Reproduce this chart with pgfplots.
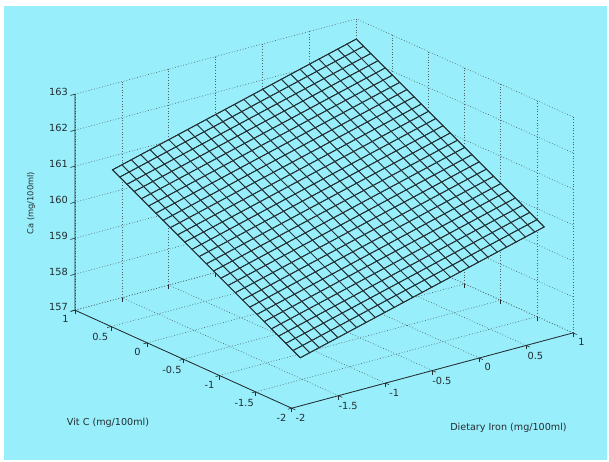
\documentclass[border=0pt]{standalone}
\usepackage{pgfplots}
\pgfplotsset{compat=1.18}
\usepackage{fontspec}
\setmainfont{DejaVu Sans}
\usetikzlibrary{calc}
\definecolor{bgc}{RGB}{152,238,250}
\definecolor{ink}{RGB}{35,45,50}
\definecolor{gridc}{RGB}{80,100,105}
\definecolor{meshc}{RGB}{35,48,52}
\begin{document}
\begin{tikzpicture}
\begin{axis}[
  set layers,
  x={(93.77pt,25.1pt)}, y={(-72.23pt,32.67pt)}, z={(0pt,36pt)},
  xmin=-2, xmax=1, ymin=-2, ymax=1, zmin=157, zmax=163,
  xtick={-2,-1.5,-1,-0.5,0,0.5,1},
  ytick={-2,-1.5,-1,-0.5,0,0.5,1},
  ztick={157,158,159,160,161,162,163},
  xtick pos=left, ytick pos=left, ztick pos=left,
  ztick style={draw=none},
  grid=major,
  major grid style={gridc, line width=0.6pt, dash pattern=on 0.8pt off 2pt},
  axis line style={draw=none},
  tick align=outside, major tick length=4pt,
  tick style={ink, line width=0.6pt},
  ticklabel style={font=\fontsize{9.8}{12}\selectfont, text=ink},
  /pgf/number format/assume math mode=true,
  xlabel={Dietary Iron (mg/100ml)},
  ylabel={Vit C (mg/100ml)},
  zlabel={Ca (mg/100ml)},
  xlabel style={at={(axis cs:-2,-2,157)}, anchor=center, xshift=216.8pt, yshift=-19.8pt, font=\fontsize{9.6}{12}\selectfont, text=ink, sloped like x axis=false},
  ylabel style={at={(axis cs:-2,-2,157)}, anchor=center, xshift=-183.7pt, yshift=-14.8pt, font=\fontsize{9.6}{12}\selectfont, text=ink, sloped like y axis=false},
  zlabel style={at={(axis cs:-2,-2,157)}, anchor=center, rotate=0, xshift=205.2pt, yshift=260.7pt, font=\fontsize{8.3}{10}\selectfont, text=ink},
  clip=false,
]
\begin{pgfonlayer}{axis background}
\fill[white] ($(axis cs:-2,-2,157)+(-291.7pt,-52.8pt)$) rectangle ($(axis cs:-2,-2,157)+(317.3pt,408.2pt)$);
\fill[bgc] ($(axis cs:-2,-2,157)+(-287.7pt,-51.8pt)$) rectangle ($(axis cs:-2,-2,157)+(315.3pt,402.2pt)$);
\end{pgfonlayer}
\addplot3[surf, shader=faceted, faceted color=meshc, line width=0.85pt,
  colormap={bgm}{rgb255=(152,238,250) rgb255=(152,238,250)}] table {
x y z
-1.6 -1.6 157.76
-1.5 -1.6 157.83
-1.4 -1.6 157.90
-1.3 -1.6 157.97
-1.2 -1.6 158.04
-1.1 -1.6 158.11
-1.0 -1.6 158.18
-0.9 -1.6 158.25
-0.8 -1.6 158.32
-0.7 -1.6 158.39
-0.6 -1.6 158.46
-0.5 -1.6 158.53
-0.4 -1.6 158.60
-0.3 -1.6 158.67
-0.2 -1.6 158.74
-0.1 -1.6 158.81
0.0 -1.6 158.88
0.1 -1.6 158.95
0.2 -1.6 159.02
0.3 -1.6 159.09
0.4 -1.6 159.16
0.5 -1.6 159.23
0.6 -1.6 159.30
0.7 -1.6 159.37
0.8 -1.6 159.44
0.9 -1.6 159.51
1.0 -1.6 159.58

-1.6 1.0 160.62
-1.5 1.0 160.69
-1.4 1.0 160.76
-1.3 1.0 160.83
-1.2 1.0 160.90
-1.1 1.0 160.97
-1.0 1.0 161.04
-0.9 1.0 161.11
-0.8 1.0 161.18
-0.7 1.0 161.25
-0.6 1.0 161.32
-0.5 1.0 161.39
-0.4 1.0 161.46
-0.3 1.0 161.53
-0.2 1.0 161.60
-0.1 1.0 161.67
0.0 1.0 161.74
0.1 1.0 161.81
0.2 1.0 161.88
0.3 1.0 161.95
0.4 1.0 162.02
0.5 1.0 162.09
0.6 1.0 162.16
0.7 1.0 162.23
0.8 1.0 162.30
0.9 1.0 162.37
1.0 1.0 162.44
};
\addplot3[mesh, line width=0.85pt,
  colormap={mm}{rgb255=(35,48,52) rgb255=(35,48,52)}] table {
x y z
-1.6 -1.6 157.76
-1.6 -1.5 157.87
-1.6 -1.4 157.98
-1.6 -1.3 158.09
-1.6 -1.2 158.20
-1.6 -1.1 158.31
-1.6 -1.0 158.42
-1.6 -0.9 158.53
-1.6 -0.8 158.64
-1.6 -0.7 158.75
-1.6 -0.6 158.86
-1.6 -0.5 158.97
-1.6 -0.4 159.08
-1.6 -0.3 159.19
-1.6 -0.2 159.30
-1.6 -0.1 159.41
-1.6 0.0 159.52
-1.6 0.1 159.63
-1.6 0.2 159.74
-1.6 0.3 159.85
-1.6 0.4 159.96
-1.6 0.5 160.07
-1.6 0.6 160.18
-1.6 0.7 160.29
-1.6 0.8 160.40
-1.6 0.9 160.51
-1.6 1.0 160.62

1.0 -1.6 159.58
1.0 -1.5 159.69
1.0 -1.4 159.80
1.0 -1.3 159.91
1.0 -1.2 160.02
1.0 -1.1 160.13
1.0 -1.0 160.24
1.0 -0.9 160.35
1.0 -0.8 160.46
1.0 -0.7 160.57
1.0 -0.6 160.68
1.0 -0.5 160.79
1.0 -0.4 160.90
1.0 -0.3 161.01
1.0 -0.2 161.12
1.0 -0.1 161.23
1.0 0.0 161.34
1.0 0.1 161.45
1.0 0.2 161.56
1.0 0.3 161.67
1.0 0.4 161.78
1.0 0.5 161.89
1.0 0.6 162.00
1.0 0.7 162.11
1.0 0.8 162.22
1.0 0.9 162.33
1.0 1.0 162.44
};
\draw[ink, line width=0.8pt] (axis cs:1,-2,157) -- (axis cs:-2,-2,157) -- (axis cs:-2,1,157) -- (axis cs:-2,1,163);
\draw[ink, line width=0.6pt] (axis cs:-2,1,157) -- (axis cs:-2.05,1,157);
\draw[ink, line width=0.6pt] (axis cs:-2,1,158) -- (axis cs:-2.05,1,158);
\draw[ink, line width=0.6pt] (axis cs:-2,1,159) -- (axis cs:-2.05,1,159);
\draw[ink, line width=0.6pt] (axis cs:-2,1,160) -- (axis cs:-2.05,1,160);
\draw[ink, line width=0.6pt] (axis cs:-2,1,161) -- (axis cs:-2.05,1,161);
\draw[ink, line width=0.6pt] (axis cs:-2,1,162) -- (axis cs:-2.05,1,162);
\draw[ink, line width=0.6pt] (axis cs:-2,1,163) -- (axis cs:-2.05,1,163);
\end{axis}
\end{tikzpicture}
\end{document}
